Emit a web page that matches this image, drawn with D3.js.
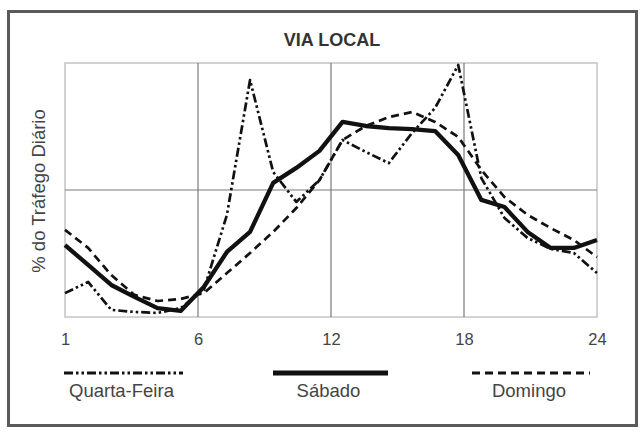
<!DOCTYPE html>
<html>
<head>
<meta charset="utf-8">
<script src="https://cdn.jsdelivr.net/npm/d3@7"></script>
<style>
  html, body { margin: 0; padding: 0; background: #fff; }
  svg { display: block; }
  text { font-family: "Liberation Sans", Arial, sans-serif; }
</style>
</head>
<body>
<svg id="chart" width="642" height="432"></svg>
<script>
// ---- data ----
const hours = [1,2,3,4,5,6,7,8,9,10,11,12,13,14,15,16,17,18,19,20,21,22,23,24];
const quartaFeira = [0.94,1.38,0.28,0.20,0.16,0.35,1.06,4.02,9.33,5.71,4.53,5.39,6.97,6.50,6.06,7.24,8.23,9.92,5.47,3.90,3.11,2.68,2.52,1.73];
const sabado = [2.83,2.05,1.26,0.79,0.35,0.24,1.18,2.56,3.35,5.28,5.87,6.54,7.68,7.52,7.44,7.40,7.32,6.38,4.61,4.33,3.35,2.72,2.72,3.03];
const domingo = [3.43,2.72,1.65,0.87,0.63,0.71,0.94,1.73,2.52,3.35,4.29,5.39,6.97,7.52,7.87,8.07,7.68,7.09,5.79,4.72,4.02,3.50,3.03,2.36];
const seriesNames = ["Quarta-Feira", "Sábado", "Domingo"];
const xTickValues = [0, 6, 12, 18, 24];
const xTickLabels = ["1", "6", "12", "18", "24"];
const yGridValues = [5];
const title = "VIA LOCAL";
const yLabel = "% do Tráfego Diário";

// ---- layout ----
const svg = d3.select("#chart");
const L = 65, R = 597, T = 63, B = 317;

const x = d3.scaleLinear().domain([1, 24]).range([L, R]);
const xGrid = d3.scaleLinear().domain([0, 24]).range([L, R]);
const y = d3.scaleLinear().domain([0, 10]).range([B, T]);

// outer frame
svg.append("rect").attr("x", 8.5).attr("y", 11.5).attr("width", 628).attr("height", 414)
  .attr("fill", "none").attr("stroke", "#5a5a5a").attr("stroke-width", 3);

// title
svg.append("text").attr("x", 332).attr("y", 45.5).attr("text-anchor", "middle")
  .attr("font-size", 18).attr("font-weight", "bold").attr("fill", "#333").text(title);

// y label
svg.append("text").attr("transform", "translate(45,191) rotate(-90)")
  .attr("text-anchor", "middle").attr("font-size", 18.5).attr("fill", "#444").text(yLabel);

// plot border
svg.append("rect").attr("x", L).attr("y", T).attr("width", R - L).attr("height", B - T)
  .attr("fill", "none").attr("stroke", "#c4c4c4").attr("stroke-width", 1.5);

// grid lines
const grid = svg.append("g");
grid.selectAll("line.v").data(xTickValues.slice(1, -1)).join("line")
  .attr("x1", d => xGrid(d)).attr("x2", d => xGrid(d)).attr("y1", T).attr("y2", B)
  .attr("stroke", "#7a7a7a").attr("stroke-width", 1.2);
grid.selectAll("line.h").data(yGridValues).join("line")
  .attr("x1", L).attr("x2", R).attr("y1", d => y(d)).attr("y2", d => y(d))
  .attr("stroke", "#7a7a7a").attr("stroke-width", 1.2);

// x axis labels
const xAxis = d3.axisBottom(xGrid).tickValues(xTickValues)
  .tickFormat((d, i) => xTickLabels[i]).tickSize(0).tickPadding(0);
const gx = svg.append("g").attr("transform", `translate(0,${B + 16})`).call(xAxis);
gx.select(".domain").remove();
gx.selectAll("text").attr("font-size", 16.5).attr("fill", "#444")
  .attr("font-family", "'Liberation Sans', Arial, sans-serif").attr("dy", "0.71em");

// lines
const line = d3.line().x((d, i) => x(hours[i])).y(d => y(d));
const styles = [
  { data: quartaFeira, width: 2.7, dash: "9,3,2.5,3,2.5,3" },
  { data: sabado, width: 4.3, dash: null },
  { data: domingo, width: 2.7, dash: "8,5" }
];
styles.forEach(s => {
  svg.append("path").datum(s.data).attr("d", line)
    .attr("fill", "none").attr("stroke", "#111").attr("stroke-width", s.width)
    .attr("stroke-linejoin", "round")
    .attr("stroke-dasharray", s.dash);
});

// legend
const legendX = [[64, 183], [273, 388], [472, 590]];
const legend = svg.append("g");
seriesNames.forEach((name, i) => {
  const [a, b] = legendX[i];
  legend.append("line").attr("x1", a).attr("x2", b).attr("y1", 373).attr("y2", 373)
    .attr("stroke", "#111").attr("stroke-width", styles[i].width + (i === 1 ? 0.8 : 0.4))
    .attr("stroke-dasharray", styles[i].dash);
  legend.append("text").attr("x", (a + b) / 2 - 2).attr("y", 396.5).attr("text-anchor", "middle")
    .attr("font-size", 18.5).attr("fill", "#444").text(name);
});
</script>
</body>
</html>
